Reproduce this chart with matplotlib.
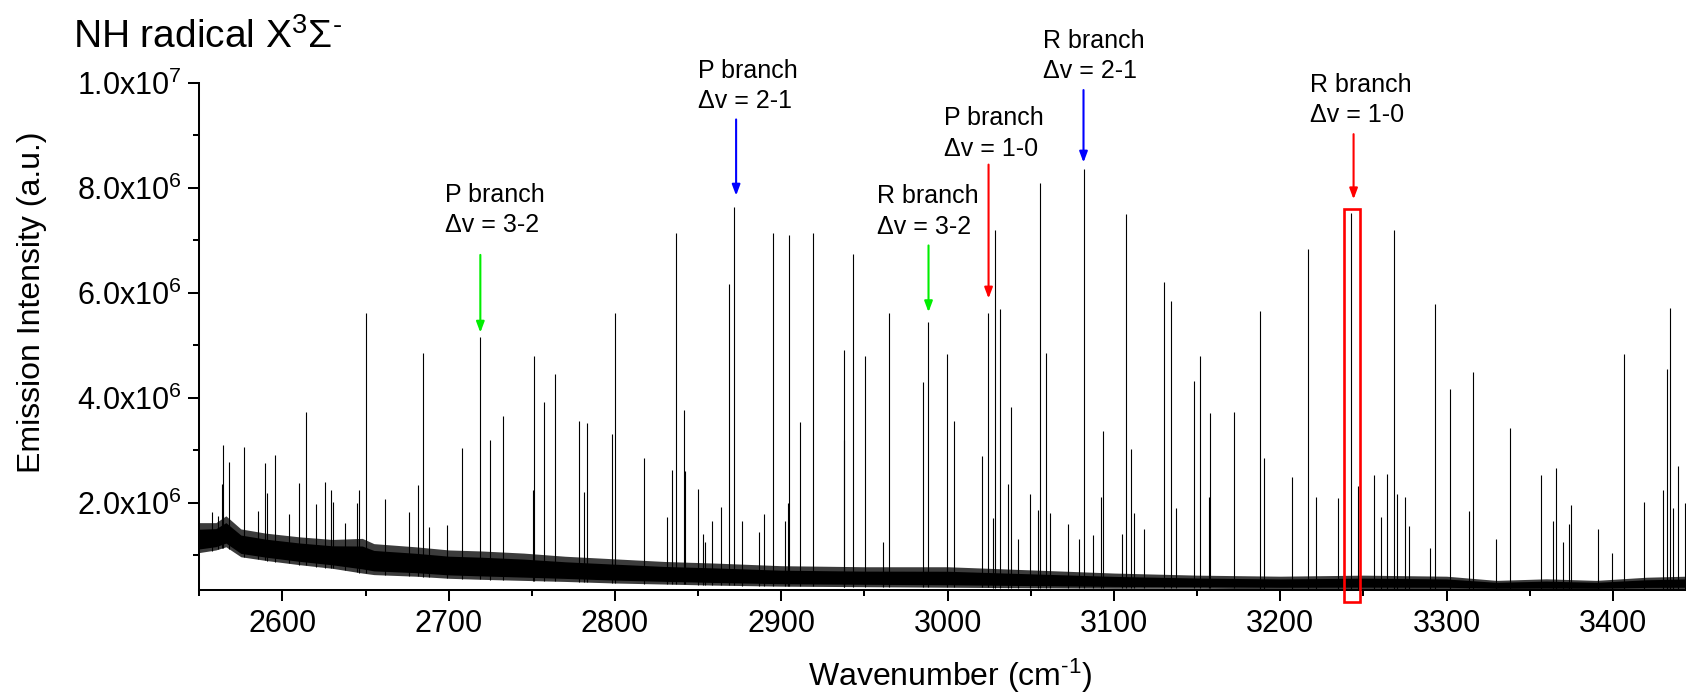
import numpy as np
import matplotlib
matplotlib.use("Agg")
import matplotlib.pyplot as plt
from matplotlib.patches import Rectangle
from matplotlib.ticker import FixedLocator, MultipleLocator, FuncFormatter

plt.rcParams['font.family'] = ['Liberation Sans', 'DejaVu Sans']
plt.rcParams['mathtext.fontset'] = 'custom'
plt.rcParams['mathtext.rm'] = 'Liberation Sans'
plt.rcParams['mathtext.it'] = 'Liberation Sans:italic'
plt.rcParams['mathtext.bf'] = 'Liberation Sans:bold'

# ---- emission lines: wavenumber (cm-1) and peak intensity (x1e6 a.u.) ----
line_cm = [
    2557.6, 2561.4, 2563.5, 2564.4, 2567.9, 2577.1, 2585.5, 2589.7, 2590.9, 2595.7,
    2604.0, 2610.2, 2614.0, 2620.4, 2625.6, 2629.0, 2630.6, 2637.4, 2645.0, 2646.2,
    2650.0, 2661.9, 2675.9, 2681.7, 2684.7, 2688.4, 2698.8, 2708.2, 2718.9, 2724.7,
    2732.9, 2750.6, 2751.2, 2757.0, 2763.6, 2778.6, 2781.5, 2783.0, 2798.4, 2800.2,
    2817.2, 2831.5, 2834.5, 2836.5, 2841.3, 2842.0, 2850.1, 2852.7, 2854.0, 2858.5,
    2863.9, 2868.7, 2871.5, 2876.3, 2886.7, 2889.3, 2894.8, 2902.0, 2904.2, 2904.8,
    2911.0, 2919.3, 2937.4, 2937.8, 2943.1, 2950.3, 2961.3, 2965.0, 2985.2, 2988.2,
    2999.7, 3003.9, 3020.6, 3024.0, 3027.0, 3028.2, 3031.6, 3036.0, 3038.1, 3042.3,
    3049.7, 3054.3, 3055.5, 3059.3, 3061.7, 3072.1, 3079.1, 3081.7, 3087.4, 3092.0,
    3093.2, 3104.8, 3107.0, 3110.4, 3112.2, 3118.3, 3130.3, 3134.3, 3137.3, 3148.3,
    3151.5, 3157.0, 3158.0, 3172.0, 3188.0, 3190.0, 3207.0, 3216.5, 3221.5, 3235.0,
    3242.7, 3246.5, 3256.1, 3260.5, 3264.1, 3268.7, 3270.5, 3274.9, 3277.3, 3290.2,
    3293.2, 3301.8, 3313.4, 3315.8, 3329.8, 3338.2, 3356.7, 3364.1, 3365.9, 3370.3,
    3373.5, 3374.9, 3391.3, 3399.5, 3406.8, 3419.0, 3430.0, 3432.8, 3434.4, 3436.0,
    3439.4, 3443.4,
]
line_int = [
    1.83, 1.74, 2.35, 3.10, 2.77, 3.07, 1.84, 2.75, 2.19, 2.90,
    1.78, 2.37, 3.73, 1.98, 2.40, 2.24, 2.02, 1.61, 1.99, 2.24,
    5.62, 2.07, 1.83, 2.34, 4.86, 1.53, 1.57, 3.05, 5.16, 3.19,
    3.65, 2.24, 4.79, 3.91, 4.45, 3.56, 2.20, 3.51, 3.31, 5.62,
    2.85, 1.73, 2.62, 7.13, 3.76, 2.60, 2.26, 1.40, 1.25, 1.65,
    1.92, 6.16, 7.63, 1.65, 1.45, 1.79, 7.14, 1.66, 2.00, 7.09,
    3.53, 7.13, 3.20, 4.91, 6.73, 4.79, 1.25, 5.61, 4.30, 5.44,
    4.84, 3.55, 2.89, 5.61, 1.70, 7.20, 5.69, 2.35, 3.83, 1.30,
    2.17, 1.86, 8.09, 4.85, 1.81, 1.60, 1.30, 8.35, 1.38, 2.10,
    3.37, 1.40, 7.49, 3.02, 1.80, 1.50, 6.20, 5.84, 1.90, 4.32,
    4.80, 2.10, 3.70, 3.72, 5.66, 2.86, 2.49, 6.83, 2.10, 2.08,
    7.51, 2.31, 2.53, 1.72, 2.55, 7.20, 2.17, 2.10, 1.55, 1.13,
    5.79, 4.17, 1.84, 4.48, 1.30, 3.43, 2.53, 1.65, 2.67, 1.25,
    1.60, 1.96, 1.50, 1.05, 4.84, 2.02, 2.25, 4.55, 5.70, 1.90,
    2.70, 2.00,
]

# ---- continuum noise band: upper / lower envelope (x1e6 a.u.) ----
band_cm = [2550, 2560, 2566, 2575, 2590, 2610, 2630, 2648, 2655, 2680,
           2700, 2720, 2745, 2770, 2800, 2830, 2860, 2900, 2950, 3000,
           3050, 3100, 3150, 3200, 3250, 3300, 3330, 3360, 3390, 3420, 3444]
band_hi = [1.62, 1.62, 1.75, 1.50, 1.42, 1.35, 1.30, 1.32, 1.22, 1.16,
           1.10, 1.08, 1.04, 0.98, 0.93, 0.88, 0.85, 0.80, 0.78, 0.78,
           0.72, 0.66, 0.62, 0.60, 0.62, 0.60, 0.52, 0.55, 0.52, 0.58, 0.60]
band_lo = [1.05, 1.10, 1.16, 0.97, 0.90, 0.82, 0.75, 0.66, 0.63, 0.60,
           0.56, 0.54, 0.52, 0.50, 0.47, 0.45, 0.43, 0.41, 0.40, 0.39,
           0.38, 0.37, 0.37, 0.36, 0.36, 0.36, 0.35, 0.35, 0.35, 0.36, 0.36]

# ---- assigned transitions: branch, vibrational band, marked line (cm-1) ----
branch_names = ["P branch", "P branch", "R branch", "P branch", "R branch", "R branch"]
band_names = ["\u0394v = 3-2", "\u0394v = 2-1", "\u0394v = 3-2",
              "\u0394v = 1-0", "\u0394v = 2-1", "\u0394v = 1-0"]
marked_cm = [2719.0, 2872.8, 2988.5, 3024.6, 3081.7, 3244.1]

# layout of the labels (pixel positions) and arrow spans (x1e6 a.u.)
label_px = [(445, 201.7), (698.3, 78), (876.7, 203), (944, 125), (1043.3, 48), (1309.5, 92)]
line_gap_px = 30.5
arrow_span = [(6.72, 5.24), (9.30, 7.85), (6.90, 5.63), (8.44, 5.89), (9.86, 8.48), (9.02, 7.78)]
arrow_colors = ["#00ee00", "#0000ff", "#00ee00", "#ff0000", "#0000ff", "#ff0000"]

W, H = 1686, 695
fig = plt.figure(figsize=(W / 100, H / 100), dpi=100)
ax = fig.add_axes([199.3 / W, 1 - 590 / H, (W - 199.3) / W, (590 - 82.7) / H])

scale = 1e6
bc = np.array(band_cm, float)
lo = np.array(band_lo) * scale
hi = np.array(band_hi) * scale
span = hi - lo
# grey fringe for the ragged edges of the noise, solid black core
ax.fill_between(bc, lo, hi, color="#3c3c3c", lw=0, zorder=2)
ax.fill_between(bc, lo + 0.12 * span, hi - 0.22 * span, color="black", lw=0, zorder=2)

lc = np.array(line_cm, float)
base = np.interp(lc, bc, lo)
ax.vlines(lc, base, np.array(line_int) * scale, color="black", lw=0.8, zorder=3)

ax.set_xlim(2550, 3444)
ax.set_ylim(0.337e6, 1.0e7)

ax.xaxis.set_major_locator(MultipleLocator(100))
ax.xaxis.set_minor_locator(FixedLocator(np.arange(2550, 3451, 100)))
ax.yaxis.set_major_locator(FixedLocator([2e6, 4e6, 6e6, 8e6, 1e7]))
ax.yaxis.set_minor_locator(FixedLocator([1e6, 3e6, 5e6, 7e6, 9e6]))


def sci_label(v, pos):
    e = int(np.floor(np.log10(v) + 1e-9))
    m = v / 10 ** e
    return r"$\mathregular{%.1fx10^{%d}}$" % (m, e)


ax.yaxis.set_major_formatter(FuncFormatter(sci_label))
ax.xaxis.set_major_formatter(FuncFormatter(lambda v, p: "%d" % v))

for side in ("top", "right"):
    ax.spines[side].set_visible(False)
for side in ("left", "bottom"):
    ax.spines[side].set_linewidth(1.45)

ax.tick_params(which="major", direction="out", length=8, width=1.45, labelsize=22)
ax.tick_params(which="minor", direction="out", length=4.5, width=1.45)
ax.tick_params(axis="y", which="major", pad=4.5)
ax.tick_params(axis="x", which="major", pad=5.5)

# title and axis labels
fig.text(72.7 / W, 1 - 48.3 / H, "NH radical X$^{3}$\u03a3$^{\\text{-}}$",
         fontsize=28, ha="left", va="baseline")
fig.text(950 / W, 1 - 686 / H, r"Wavenumber (cm$^{\text{-1}}$)", fontsize=23,
         ha="center", va="baseline")
fig.text(32 / W, 1 - 302.7 / H, "Emission Intensity (a.u.)", fontsize=23,
         rotation=90, ha="center", va="center")

# transition labels with arrows
for name, band, xc, (px, py), (top, tip), col in zip(
        branch_names, band_names, marked_cm, label_px, arrow_span, arrow_colors):
    fig.text(px / W, 1 - py / H, name, fontsize=18, ha="left", va="baseline")
    fig.text(px / W, 1 - (py + line_gap_px) / H, band, fontsize=18, ha="left", va="baseline")
    ax.annotate("", xy=(xc, tip * scale), xytext=(xc, top * scale),
                arrowprops=dict(arrowstyle="-|>,head_length=0.4,head_width=0.15",
                                color=col, lw=1.5, mutation_scale=16,
                                shrinkA=0, shrinkB=0),
                annotation_clip=False, zorder=5)

# highlighted R(1-0) line
box_x0, box_x1 = 3238.2, 3248.2
box_y0, box_y1 = 0.114e6, 7.60e6
ax.add_patch(Rectangle((box_x0, box_y0), box_x1 - box_x0, box_y1 - box_y0,
                       fill=False, edgecolor="#ff0000", lw=1.9, clip_on=False, zorder=6))

fig.savefig("out.png", dpi=100)
